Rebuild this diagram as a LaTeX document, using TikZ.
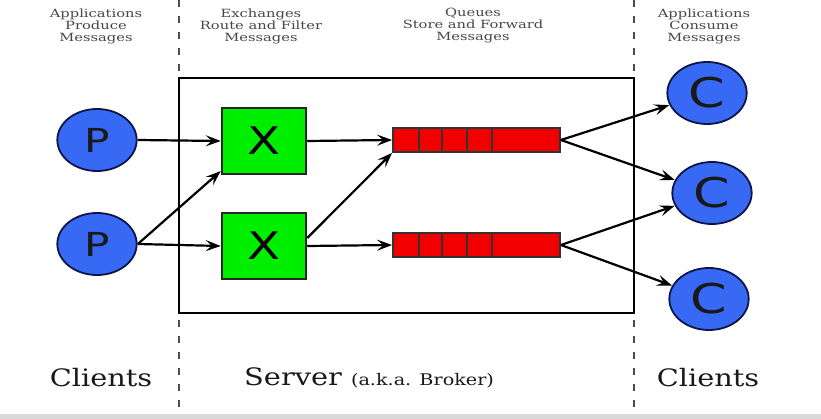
\documentclass[tikz,border=0pt]{standalone}
\usepackage{fontspec}
\newfontfamily\notefont{DejaVu Serif}
\newfontfamily\letterfont{DejaVu Sans}
\usetikzlibrary{arrows.meta}
\usetikzlibrary{positioning}

\definecolor{clientblue}{RGB}{55,105,245}
\definecolor{clientedge}{RGB}{12,22,70}
\definecolor{exgreen}{RGB}{0,238,0}
\definecolor{queuered}{RGB}{242,0,0}
\definecolor{notegray}{RGB}{70,70,70}

\tikzset{
  client/.style={circle, draw=clientedge, line width=1.8pt, fill=clientblue,
    minimum size=62pt, inner sep=0pt, xscale=1.28, text=black!90},
  exchange/.style={rectangle, draw=black!85, line width=2.1pt, fill=exgreen,
    minimum width=66pt, minimum height=66pt, inner sep=0pt, xscale=1.27,
    font=\letterfont\fontsize{38}{38}\selectfont},
  queue/.style={rectangle, draw=black!80, line width=1.8pt, fill=queuered,
    minimum width=167pt, minimum height=24pt, inner sep=0pt},
  flow/.style={-{Stealth[length=15pt,width=11pt,inset=6pt]}, line width=2.2pt},
  note/.style={align=center, text=notegray, xscale=1.3,
    font=\notefont\fontsize{11.3}{12}\selectfont},
  role/.style={xscale=1.2, text=black!90, font=\notefont\fontsize{24}{24}\selectfont},
  divider/.style={draw=black!70, line width=1.1pt, dash pattern=on 7pt off 9pt}
}

\begin{document}
\begin{tikzpicture}[x=1pt,y=-1pt]
\useasboundingbox (0,0) rectangle (821,419);
\fill[gray!30] (0,414) rectangle (821,419);

% borders between clients and server
\draw[divider] (179,0) -- (179,413);
\draw[divider] (634,0) -- (634,413);
\draw[line width=2.6pt] (179,78) rectangle (634,313);

% producers, exchanges, queues, consumers
\node[client, font=\letterfont\fontsize{33}{33}\selectfont] (p1) at (97,140) {P};
\node[client, font=\letterfont\fontsize{33}{33}\selectfont] (p2) at (97,244) {P};
\node[exchange] (x1) at (264,141) {X};
\node[exchange] (x2) at (264,246) {X};
\node[queue] (q1) at (476.5,140) {};
\node[queue] (q2) at (476.5,245) {};
\foreach \q in {q1,q2}
  \foreach \d in {27,50,75,100}
    \draw[black!80, line width=1.8pt] ([xshift=\d pt]\q.north west) -- ([xshift=\d pt]\q.south west);
\node[client, font=\letterfont\fontsize{41}{41}\selectfont] (c1) at (707,93) {C};
\node[client, font=\letterfont\fontsize{41}{41}\selectfont] (c2) at (712,193) {C};
\node[client, font=\letterfont\fontsize{41}{41}\selectfont] (c3) at (709,299) {C};

% message flow
\draw[flow] (p1.east) -- (x1.west);
\draw[flow] (p2.east) -- ([yshift=4pt]x1.south west);
\draw[flow] (p2.east) -- (x2.west);
\draw[flow] (x1.east) -- (q1.west);
\draw[flow] ([yshift=8pt]x2.east) -- (q1.south west);
\draw[flow] (x2.east) -- (q2.west);
\draw[flow] (q1.east) -- (c1);
\draw[flow] (q1.east) -- (c2);
\draw[flow] (q2.east) -- (c2);
\draw[flow] (q2.east) -- (c3);

% captions
\node[note] (prodnote) at (96,26) {Applications\\Produce\\Messages};
\node[note] (exnote) at (261,26) {Exchanges\\Route and Filter\\Messages};
\node[note] (qnote) at (473,26) {Queues\\Store and Forward\\Messages};
\node[note] (connote) at (704,26) {Applications\\Consume\\Messages};
\node[role] (leftclients) at (101,378) {Clients};
\node[role, anchor=west] (server) at (240,378) {Server {\fontsize{16}{16}\selectfont(a.k.a. Broker)}};
\node[role] (rightclients) at (708,378) {Clients};
\end{tikzpicture}
\end{document}
